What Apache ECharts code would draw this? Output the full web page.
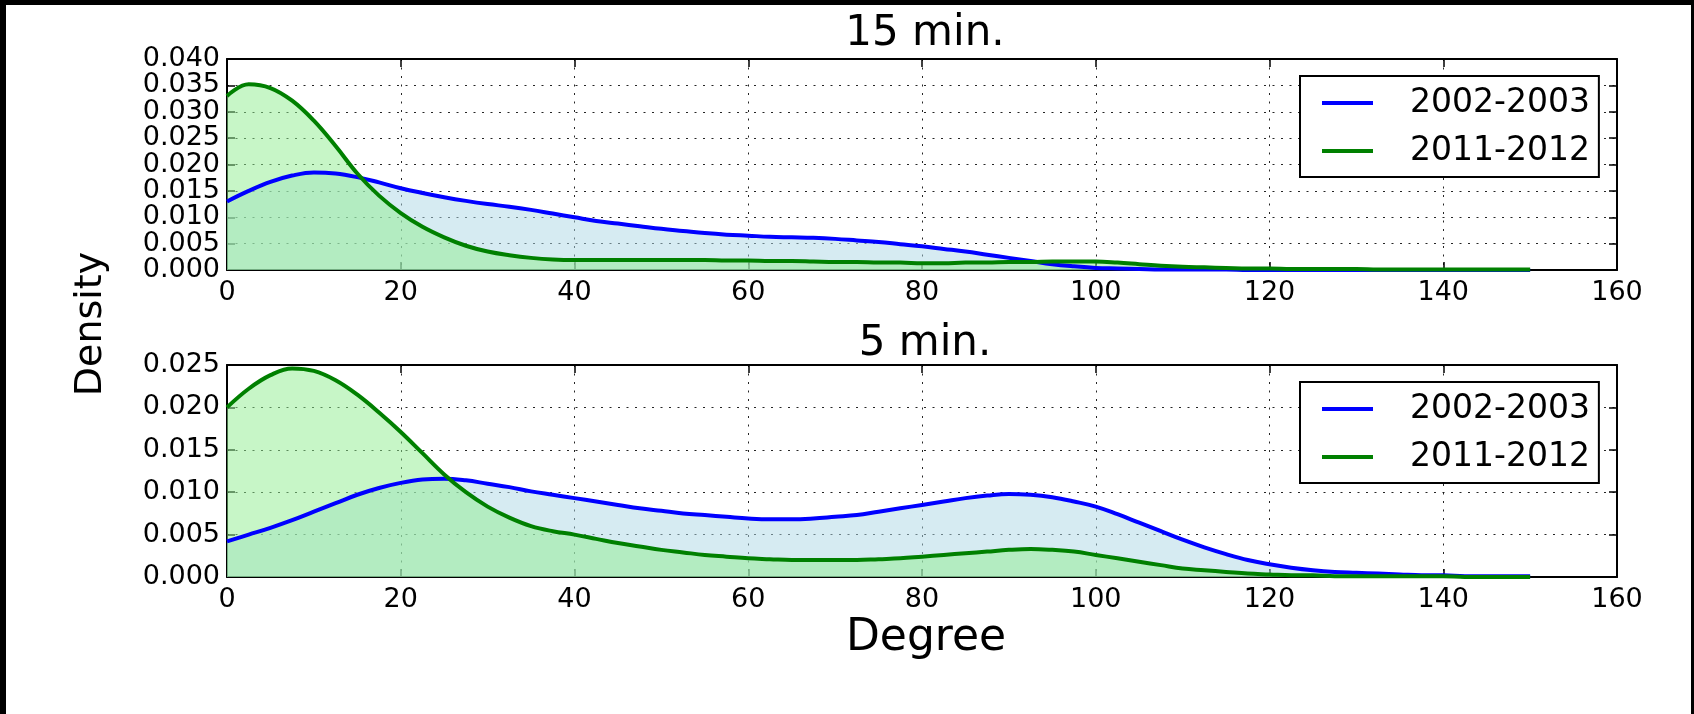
<!DOCTYPE html>
<html>
<head>
<meta charset="utf-8">
<script src="https://cdn.jsdelivr.net/npm/echarts@6/dist/echarts.min.js"></script>
<style>
  html, body { margin: 0; padding: 0; background: #fff; }
  #chart { position: absolute; left: 0; top: 0; width: 1694px; height: 714px; }
  .edge { position: absolute; background: #000; }
</style>
</head>
<body>
<div id="chart"></div>
<div class="edge" style="left:0;top:0;width:1694px;height:5px"></div>
<div class="edge" style="left:0;top:0;width:6px;height:714px"></div>
<div class="edge" style="left:1691px;top:0;width:3px;height:714px"></div>
<script>
// Degree values at which the density estimates are sampled
const degree = [
  0, 2.5, 5, 7.5, 10, 12.5, 15, 17.5, 20, 22.5, 25, 27.5, 30, 32.5, 35, 37.5,
  40, 42.5, 45, 47.5, 50, 52.5, 55, 57.5, 60, 62.5, 65, 67.5, 70, 72.5, 75, 77.5,
  80, 82.5, 85, 87.5, 90, 92.5, 95, 97.5, 100, 102.5, 105, 107.5, 110, 112.5, 115, 117.5,
  120, 122.5, 125, 127.5, 130, 132.5, 135, 137.5, 140, 142.5, 145, 147.5, 150];

// 15-minute window
const min15_2002 = [
  0.0130, 0.0150, 0.0167, 0.0179, 0.0185, 0.0183, 0.0176, 0.0166, 0.0155, 0.0146, 0.0138, 0.0131, 0.0125, 0.0120, 0.0114, 0.0107,
  0.0100, 0.0093, 0.0088, 0.0083, 0.0078, 0.0074, 0.0070, 0.0067, 0.0065, 0.0063, 0.0062, 0.0061, 0.0059, 0.0056, 0.0053, 0.0049,
  0.0045, 0.0040, 0.0035, 0.0029, 0.0023, 0.0017, 0.0011, 0.0007, 0.0004, 0.0003, 0.0002, 0.0001, 0.0001, 0.0001, 0.0001, 0,
  0, 0, 0, 0, 0, 0, 0, 0, 0, 0, 0, 0, 0];
const min15_2011 = [
  0.0330, 0.0352, 0.0345, 0.0321, 0.0283, 0.0235, 0.0183, 0.0141, 0.0108, 0.0082, 0.0062, 0.0046, 0.0035, 0.0028, 0.0023, 0.0020,
  0.0019, 0.0019, 0.0019, 0.0019, 0.0019, 0.0019, 0.0019, 0.0018, 0.0018, 0.0017, 0.0017, 0.0016, 0.0015, 0.0015, 0.0014, 0.0014,
  0.0013, 0.0013, 0.0014, 0.0014, 0.0015, 0.0015, 0.0016, 0.0016, 0.0016, 0.0014, 0.0011, 0.0008, 0.0006, 0.0005, 0.0004, 0.0003,
  0.0003, 0.0002, 0.0002, 0.0002, 0.0002, 0.0001, 0.0001, 0.0001, 0.0001, 0.0001, 0.0001, 0.0001, 0.0001];

// 5-minute window
const min5_2002 = [
  0.0042, 0.0050, 0.0058, 0.0067, 0.0077, 0.0087, 0.0097, 0.0105, 0.0111, 0.0115, 0.0116, 0.0114, 0.0110, 0.0106, 0.0101, 0.0097,
  0.0093, 0.0089, 0.0085, 0.0081, 0.0078, 0.0075, 0.0073, 0.0071, 0.0069, 0.0068, 0.0068, 0.0069, 0.0071, 0.0073, 0.0077, 0.0081,
  0.0085, 0.0089, 0.0093, 0.0096, 0.0098, 0.0097, 0.0094, 0.0089, 0.0083, 0.0074, 0.0064, 0.0054, 0.0044, 0.0035, 0.0027, 0.0020,
  0.0015, 0.0011, 0.0008, 0.0006, 0.0005, 0.0004, 0.0003, 0.0002, 0.0002, 0.0001, 0.0001, 0.0001, 0.0001];
const min5_2011 = [
  0.0200, 0.0222, 0.0238, 0.0246, 0.0243, 0.0232, 0.0215, 0.0194, 0.0171, 0.0146, 0.0121, 0.0100, 0.0083, 0.0070, 0.0060, 0.0054,
  0.0050, 0.0045, 0.0040, 0.0036, 0.0032, 0.0029, 0.0026, 0.0024, 0.0022, 0.0021, 0.0020, 0.0020, 0.0020, 0.0020, 0.0021, 0.0022,
  0.0024, 0.0026, 0.0028, 0.0030, 0.0032, 0.0033, 0.0032, 0.0030, 0.0026, 0.0022, 0.0018, 0.0014, 0.0010, 0.0008, 0.0006, 0.0004,
  0.0003, 0.0002, 0.0002, 0.0001, 0.0001, 0.0001, 0.0001, 0.0001, 0.0001, 0, 0, 0, 0];

// Density tick values of each panel
const yTicks15 = [0, 0.005, 0.010, 0.015, 0.020, 0.025, 0.030, 0.035, 0.040];
const yTicks5 = [0, 0.005, 0.010, 0.015, 0.020, 0.025];

const periods = ['2002-2003', '2011-2012'];
const panelTitles = ['15 min.', '5 min.'];
const xLabel = 'Degree';
const yLabel = 'Density';

const FONT = '"DejaVu Sans", sans-serif';
const lineColors = ['#0000ff', '#008000'];
const fillColors = ['rgba(173,216,230,0.5)', 'rgba(144,238,144,0.5)'];

const pairs = vals => degree.map((d, i) => [d, vals[i]]);
const panels = [[min15_2002, min15_2011], [min5_2002, min5_2011]];
const panelTicks = [yTicks15, yTicks5];

const grids = [
  { left: 227, top: 59, width: 1390, height: 211 },
  { left: 227, top: 365, width: 1390, height: 212 }
];

const frame = { show: true, onZero: false, lineStyle: { color: '#000', width: 2 } };
const tick = { show: true, inside: true, length: 8, lineStyle: { color: '#000', width: 1.5 } };
const dots = { show: true, lineStyle: { color: '#000', width: 1, type: [2, 6.5], opacity: 0.85 } };

const xAxis = [], yAxis = [], series = [], legend = [], graphic = [];

grids.forEach((g, k) => {
  const ticks = panelTicks[k];
  const yMin = ticks[0], yMax = ticks[ticks.length - 1], yStep = ticks[1] - ticks[0];
  xAxis.push({
    type: 'value', gridIndex: k, position: 'bottom', min: 0, max: 160, interval: 20,
    axisLine: frame, axisTick: tick, splitLine: dots,
    axisLabel: { color: '#000', fontFamily: FONT, fontSize: 27, margin: 9,
      showMinLabel: true, showMaxLabel: true, hideOverlap: false }
  });
  xAxis.push({
    type: 'value', gridIndex: k, position: 'top', min: 0, max: 160, interval: 20,
    axisLine: frame, axisTick: tick, splitLine: { show: false }, axisLabel: { show: false }
  });
  // density labels are placed below as text at the axis's own pixel positions
  yAxis.push({
    type: 'value', gridIndex: k, position: 'left', min: yMin, max: yMax, interval: yStep,
    axisLine: frame, axisTick: tick, splitLine: dots, axisLabel: { show: false }
  });
  yAxis.push({
    type: 'value', gridIndex: k, position: 'right', min: yMin, max: yMax, interval: yStep,
    axisLine: frame, axisTick: tick, splitLine: { show: false }, axisLabel: { show: false }
  });

  // shaded areas first, then the outlines on top
  panels[k].forEach((vals, s) => {
    series.push({
      name: 'fill ' + periods[s], type: 'line', xAxisIndex: 2 * k, yAxisIndex: 2 * k,
      data: pairs(vals), smooth: 0.4, symbol: 'none', silent: true,
      lineStyle: { width: 0 }, areaStyle: { color: fillColors[s], opacity: 1 }, z: 1
    });
  });
  panels[k].forEach((vals, s) => {
    series.push({
      name: periods[s], type: 'line', xAxisIndex: 2 * k, yAxisIndex: 2 * k,
      data: pairs(vals), smooth: 0.4, symbol: 'none',
      color: lineColors[s], lineStyle: { width: 4, color: lineColors[s] }, z: 3
    });
  });

  legend.push({
    data: periods, orient: 'vertical', left: 1300, top: g.top + 17,
    padding: [7, 9, 6, 22], itemWidth: 51, itemHeight: 4, itemGap: 8, icon: 'rect',
    backgroundColor: '#fff', borderColor: '#000', borderWidth: 2, borderRadius: 0,
    textStyle: { color: '#000', fontFamily: FONT, fontSize: 33, lineHeight: 40, padding: [0, 0, 0, 32] },
    selectedMode: false, z: 10
  });

  graphic.push({
    type: 'text', x: g.left + g.width / 2 + 3, y: k === 0 ? 34 : 344,
    style: { text: panelTitles[k], font: '42px ' + FONT, fill: '#000', align: 'center', verticalAlign: 'middle' }
  });
});

graphic.push({
  type: 'text', x: 91, y: 324, rotation: Math.PI / 2,
  style: { text: yLabel, font: '38px ' + FONT, fill: '#000', align: 'center', verticalAlign: 'middle' }
});
graphic.push({
  type: 'text', x: 926, y: 639,
  style: { text: xLabel, font: '44px ' + FONT, fill: '#000', align: 'center', verticalAlign: 'middle' }
});

const chart = echarts.init(document.getElementById('chart'), null, { renderer: 'canvas' });
chart.setOption({
  animation: false,
  backgroundColor: '#fff',
  grid: grids,
  xAxis, yAxis, series, legend
});

// density tick labels, every one shown, positioned through each panel's y axis
panelTicks.forEach((ticks, k) => {
  ticks.forEach(v => {
    graphic.push({
      type: 'text', x: grids[k].left - 7, y: chart.convertToPixel({ yAxisIndex: 2 * k }, v),
      style: { text: v.toFixed(3), font: '27px ' + FONT, fill: '#000', align: 'right', verticalAlign: 'middle' }
    });
  });
});
chart.setOption({ graphic });
</script>
</body>
</html>
